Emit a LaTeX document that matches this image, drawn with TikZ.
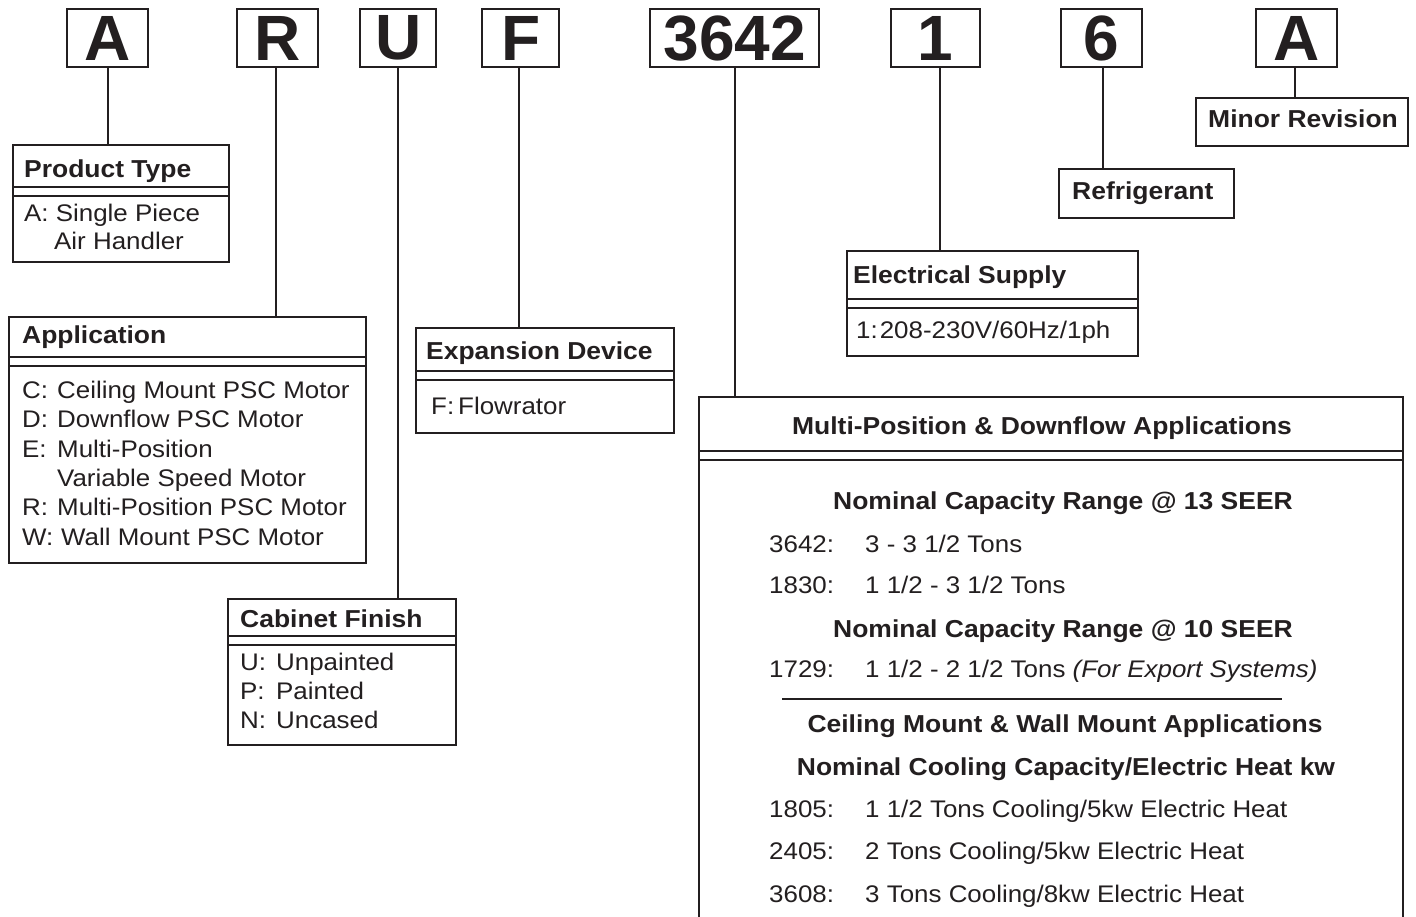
\documentclass[tikz,border=0pt]{standalone}
\usepackage{fontspec}
\setmainfont{Liberation Sans}[FakeStretch=1.08]
\newfontfamily\bigfamily{Liberation Sans}
\definecolor{ink}{RGB}{35,31,32}
\newcommand{\bodyf}{\fontsize{24}{28}\selectfont}
\newcommand{\headf}{\fontsize{24.5}{28}\selectfont\bfseries}
\newcommand{\bigf}{\bigfamily\fontsize{64}{70}\selectfont\bfseries}
\begin{document}
\begin{tikzpicture}[x=1pt,y=-1pt,
  letterbox/.style={draw=ink, line width=2.3pt, inner sep=0pt, minimum height=58pt, font=\bigf, text=ink, anchor=north west},
  infobox/.style={draw=ink, line width=2.3pt, inner sep=0pt, anchor=north west},
  conn/.style={draw=ink, line width=2pt},
  sepline/.style={draw=ink, line width=1.2pt},
  hd/.style={inner sep=0pt, anchor=base west, font=\headf, text=ink},
  hdc/.style={hd, anchor=base},
  tx/.style={inner sep=0pt, anchor=base west, font=\bodyf, text=ink}]
\useasboundingbox (0,0) rectangle (1416,916);
\fill[white] (0,0) rectangle (1416,916);
\clip (0,0) rectangle (1416,916);

% top code letters
\node[letterbox, minimum width=81pt] (lA) at (66,8) {A};
\node[letterbox, minimum width=81pt] (lR) at (236,8) {R};
\node[letterbox, minimum width=76pt] (lU) at (359,8) {U};
\node[letterbox, minimum width=77pt] (lF) at (481,8) {F};
\node[letterbox, minimum width=169pt] (lN) at (649,8) {3642};
\node[letterbox, minimum width=89pt] (l1) at (890,8) {1};
\node[letterbox, minimum width=81pt] (l6) at (1060,8) {6};
\node[letterbox, minimum width=81pt] (lA2) at (1255,8) {A};

% Product Type
\node[infobox, minimum width=216pt, minimum height=117pt] (pt) at (12,144) {};
\draw[sepline] (pt.west |- 0,187) -- (pt.east |- 0,187);
\draw[sepline] (pt.west |- 0,196) -- (pt.east |- 0,196);
\node[hd] (ptH) at (24,177) {Product Type};
\node[tx] (pt1) at (24,221) {A: Single Piece};
\node[tx] (pt2) at (54,249) {Air Handler};

% Application
\node[infobox, minimum width=357pt, minimum height=246pt] (app) at (8,316) {};
\draw[sepline] (app.west |- 0,357) -- (app.east |- 0,357);
\draw[sepline] (app.west |- 0,366) -- (app.east |- 0,366);
\node[hd] (appH) at (22,343) {Application};
\node[tx] (app1) at (22,398) {\makebox[35pt][l]{C:}Ceiling Mount PSC Motor};
\node[tx] (app2) at (22,427) {\makebox[35pt][l]{D:}Downflow PSC Motor};
\node[tx] (app3) at (22,457) {\makebox[35pt][l]{E:}Multi-Position};
\node[tx] (app4) at (57,486) {Variable Speed Motor};
\node[tx] (app5) at (22,515) {\makebox[35pt][l]{R:}Multi-Position PSC Motor};
\node[tx] (app6) at (22,545) {\makebox[39pt][l]{W:}Wall Mount PSC Motor};

% Cabinet Finish
\node[infobox, minimum width=228pt, minimum height=146pt] (cab) at (227,598) {};
\draw[sepline] (cab.west |- 0,636) -- (cab.east |- 0,636);
\draw[sepline] (cab.west |- 0,645) -- (cab.east |- 0,645);
\node[hd] (cabH) at (240,627) {Cabinet Finish};
\node[tx] (cab1) at (240,670) {\makebox[36pt][l]{U:}Unpainted};
\node[tx] (cab2) at (240,699) {\makebox[36pt][l]{P:}Painted};
\node[tx] (cab3) at (240,728) {\makebox[36pt][l]{N:}Uncased};

% Expansion Device
\node[infobox, minimum width=258pt, minimum height=105pt] (exp) at (415,327) {};
\draw[sepline] (exp.west |- 0,371) -- (exp.east |- 0,371);
\draw[sepline] (exp.west |- 0,380) -- (exp.east |- 0,380);
\node[hd] (expH) at (426,359) {Expansion Device};
\node[tx] (exp1) at (431,414) {\makebox[27pt][l]{F:}Flowrator};

% Electrical Supply
\node[infobox, minimum width=291pt, minimum height=105pt] (ele) at (846,250) {};
\draw[sepline] (ele.west |- 0,299) -- (ele.east |- 0,299);
\draw[sepline] (ele.west |- 0,308) -- (ele.east |- 0,308);
\node[hd] (eleH) at (853,283) {Electrical Supply};
\node[tx] (ele1) at (856,338) {1:\hspace{2pt}208-230V/60Hz/1ph};

% Refrigerant
\node[infobox, minimum width=175pt, minimum height=49pt] (ref) at (1058,168) {};
\node[hd] (refH) at (1072,199) {Refrigerant};

% Minor Revision
\node[infobox, minimum width=212pt, minimum height=48pt] (rev) at (1195,97) {};
\node[hd] (revH) at (1208,127) {Minor Revision};

% Model / capacity box (open at the bottom edge)
\node[infobox, minimum width=704pt, minimum height=600pt] (cap) at (698,396) {};
\draw[sepline] (cap.west |- 0,451) -- (cap.east |- 0,451);
\draw[sepline] (cap.west |- 0,460) -- (cap.east |- 0,460);
\node[hdc] (capH) at (1042,434) {Multi-Position \& Downflow Applications};
\node[hdc] (capS1) at (1063,509) {Nominal Capacity Range @ 13 SEER};
\node[tx] (c1a) at (769,552) {3642:};
\node[tx] (c1b) at (865,552) {3 - 3 1/2 Tons};
\node[tx] (c2a) at (769,593) {1830:};
\node[tx] (c2b) at (865,593) {1 1/2 - 3 1/2 Tons};
\node[hdc] (capS2) at (1063,637) {Nominal Capacity Range @ 10 SEER};
\node[tx] (c3a) at (769,677) {1729:};
\node[tx] (c3b) at (865,677) {1 1/2 - 2 1/2 Tons \textit{(For Export Systems)}};
\draw[ink, line width=2.5pt] (782,699) -- (1282,699);
\node[hdc] (capS3) at (1065,732) {Ceiling Mount \& Wall Mount Applications};
\node[hdc] (capS4) at (1066,775) {Nominal Cooling Capacity/Electric Heat kw};
\node[tx] (c4a) at (769,817) {1805:};
\node[tx] (c4b) at (865,817) {1 1/2 Tons Cooling/5kw Electric Heat};
\node[tx] (c5a) at (769,859) {2405:};
\node[tx] (c5b) at (865,859) {2 Tons Cooling/5kw Electric Heat};
\node[tx] (c6a) at (769,902) {3608:};
\node[tx] (c6b) at (865,902) {3 Tons Cooling/8kw Electric Heat};

% connectors
\draw[conn] (lA.south) -- (lA.south |- pt.north);
\draw[conn] ([xshift=-1.5pt]lR.south) -- ([xshift=-1.5pt]lR.south |- app.north);
\draw[conn] (lU.south) -- (lU.south |- cab.north);
\draw[conn] ([xshift=-1.5pt]lF.south) -- ([xshift=-1.5pt]lF.south |- exp.north);
\draw[conn] (lN.south) -- (lN.south |- cap.north);
\draw[conn] ([xshift=4.5pt]l1.south) -- ([xshift=4.5pt]l1.south |- ele.north);
\draw[conn] ([xshift=1.5pt]l6.south) -- ([xshift=1.5pt]l6.south |- ref.north);
\draw[conn] ([xshift=-1.5pt]lA2.south) -- ([xshift=-1.5pt]lA2.south |- rev.north);
\end{tikzpicture}
\end{document}
